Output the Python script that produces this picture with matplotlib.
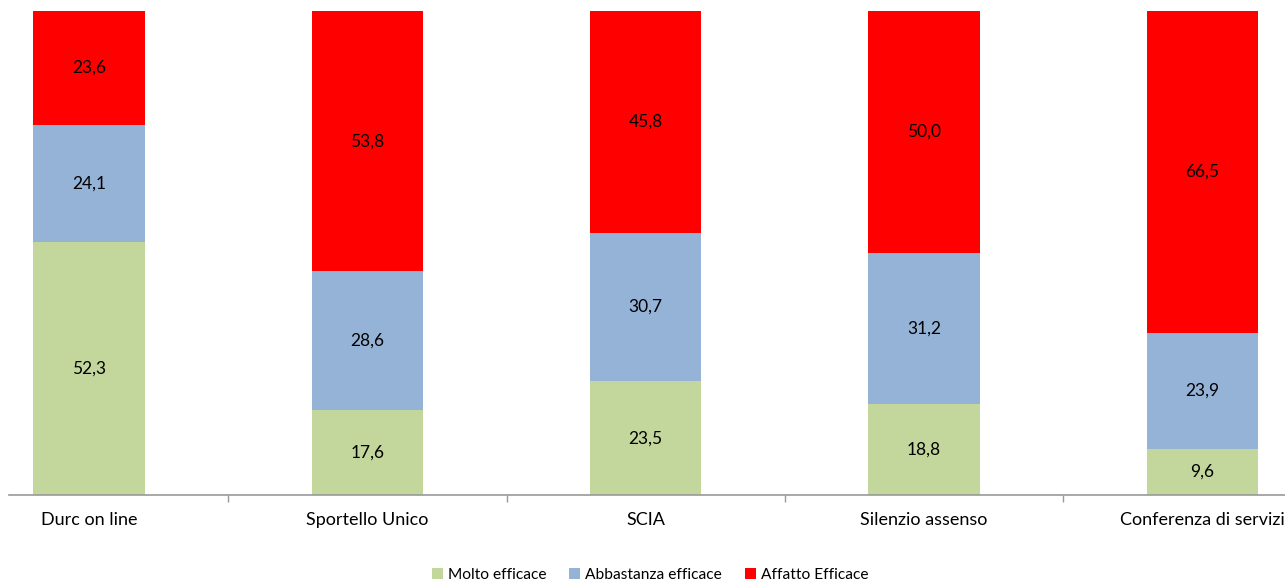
import matplotlib
matplotlib.use("Agg")
import matplotlib.pyplot as plt
import numpy as np

categories = ["Durc on line", "Sportello Unico", "SCIA", "Silenzio assenso", "Conferenza di servizi"]
molto = [52.3, 17.6, 23.5, 18.8, 9.6]
abbastanza = [24.1, 28.6, 30.7, 31.2, 23.9]
affatto = [23.6, 53.8, 45.8, 50.0, 66.5]
series_names = ["Molto efficace", "Abbastanza efficace", "Affatto Efficace"]
colors = ["#C3D69B", "#95B3D7", "#FF0000"]

plt.rcParams['font.family'] = ['Lato', 'DejaVu Sans']

W, H = 1285, 582
fig = plt.figure(figsize=(W / 100, H / 100), dpi=100)
ax = fig.add_axes([9 / W, 87 / H, (W - 9) / W, (495 - 11) / H])

x = np.arange(len(categories))
bottom = np.zeros(len(categories))
for vals, name, col in zip([molto, abbastanza, affatto], series_names, colors):
    bars = ax.bar(x, vals, width=0.4, bottom=bottom, color=col, label=name, linewidth=0)
    for xi, b, v in zip(x, bottom, vals):
        ax.text(xi, b + v / 2, f"{v:.1f}".replace(".", ","), ha="center", va="center",
                fontsize=12.5, color="black")
    bottom = bottom + np.array(vals)

ax.set_xlim(-0.287, 4.296)
ax.set_ylim(0, 100)
for s in ["top", "right", "left"]:
    ax.spines[s].set_visible(False)
ax.spines["bottom"].set_color("#999999")
ax.spines["bottom"].set_linewidth(1.2)
ax.set_yticks([])
ax.set_xticks(x)
ax.set_xticklabels(categories, fontsize=13)
ax.tick_params(axis="x", which="major", length=0, pad=12)
ax.set_xticks(x[:-1] + 0.5, minor=True)
ax.tick_params(axis="x", which="minor", length=5, color="#999999", width=1)

handles, labels = ax.get_legend_handles_labels()
fig.legend(handles, labels, loc="center", bbox_to_anchor=(650 / W, 1 - 575 / H), ncol=3,
           frameon=False, fontsize=11.2, handlelength=0.7, handleheight=0.7,
           handletextpad=0.3, columnspacing=1.5)

fig.savefig("out.png", dpi=100)
